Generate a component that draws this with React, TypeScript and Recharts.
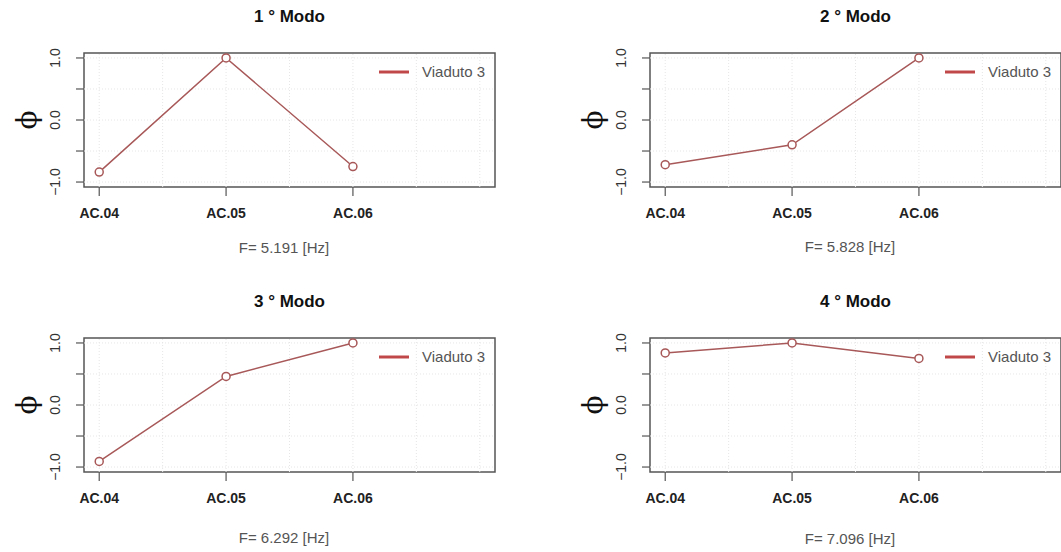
import React from "react";
import {
  LineChart,
  Line,
  XAxis,
  YAxis,
  ReferenceArea,
  ReferenceLine,
  Legend,
} from "recharts";

const stations = ["AC.04", "AC.05", "AC.06"];
const modeTitles = ["1 ° Modo", "2 ° Modo", "3 ° Modo", "4 ° Modo"];
const frequencies = ["5.191", "5.828", "6.292", "7.096"];
const mode1 = [-0.84, 1.0, -0.75];
const mode2 = [-0.72, -0.4, 1.0];
const mode3 = [-0.91, 0.46, 1.0];
const mode4 = [0.84, 1.0, 0.75];
const seriesName = "Viaduto 3";
const xTicks = [1, 2, 3];
const yTicks = [-1, -0.5, 0, 0.5, 1];
const xGridLines = [1, 1.5, 2, 2.5, 3, 3.5, 4];
const xDomain = [0.88, 4.12];
const yDomain = [-1.08, 1.08];

const modes = [mode1, mode2, mode3, mode4];

const FONT = '"Liberation Sans", Arial, sans-serif';
const LINE_COLOR = "#a85858";
const LEGEND_COLOR = "#c04848";
const BOX_COLOR = "#555";

// panel placement (left, top, F-label center y)
const panels = [
  { left: 0, top: 0, fy: 247 },
  { left: 566, top: 0, fy: 246 },
  { left: 0, top: 285, fy: 252 },
  { left: 566, top: 285, fy: 253 },
];

const yLabel = (v: number) => {
  if (v === 1) return "1.0";
  if (v === 0) return "0.0";
  if (v === -1) return "\u22121.0";
  return "";
};

const YTick = (props: any) => {
  const { x, y, payload } = props;
  const bx = x - 14;
  return (
    <text
      x={bx}
      y={y}
      transform={`rotate(-90, ${bx}, ${y})`}
      textAnchor="middle"
      fontSize={14}
      fontFamily={FONT}
      fill="#333"
    >
      {yLabel(payload.value)}
    </text>
  );
};

// rotated phi as the y axis title
const PhiLabel = (props: any) => {
  const vb = props.viewBox || { y: 53, height: 134 };
  const cx = 27;
  const cy = vb.y + vb.height / 2;
  return (
    <g transform={`translate(${cx}, ${cy}) rotate(-90)`}>
      <text
        x={0}
        y={9}
        textAnchor="middle"
        fontSize={28}
        fontFamily='"DejaVu Serif", serif'
        fill="#111"
      >
        {"\u03D5"}
      </text>
    </g>
  );
};

const LegendBox = () => (
  <div style={{ display: "flex", alignItems: "center", fontFamily: FONT }}>
    <svg width={30} height={6} style={{ marginRight: 13 }}>
      <line x1={0} y1={3} x2={30} y2={3} stroke={LEGEND_COLOR} strokeWidth={3} />
    </svg>
    <span style={{ fontSize: 15, color: "#555" }}>{seriesName}</span>
  </div>
);

const ModePanel = ({ index }: { index: number }) => {
  const values = modes[index];
  const data = stations.map((s, i) => ({ x: i + 1, station: s, phi: values[i] }));
  const p = panels[index];
  return (
    <div style={{ position: "absolute", left: p.left, top: p.top, width: 566, height: 284 }}>
      <div
        style={{
          position: "absolute",
          left: 289.5,
          top: 17,
          transform: "translate(-50%, -50%)",
          fontFamily: FONT,
          fontWeight: "bold",
          fontSize: 17,
          color: "#111",
          whiteSpace: "nowrap",
        }}
      >
        {modeTitles[index]}
      </div>
      <div
        style={{
          position: "absolute",
          left: 284,
          top: p.fy,
          transform: "translate(-50%, -50%)",
          fontFamily: FONT,
          fontSize: 15,
          color: "#555",
          whiteSpace: "nowrap",
        }}
      >
        {`F= ${frequencies[index]} [Hz]`}
      </div>
      <LineChart
        width={566}
        height={284}
        data={data}
        margin={{ top: 53, right: 71, bottom: 0, left: 24 }}
      >
        <XAxis
          type="number"
          dataKey="x"
          domain={xDomain}
          ticks={xTicks}
          allowDataOverflow
          height={97}
          axisLine={false}
          tickLine={{ stroke: BOX_COLOR, strokeWidth: 1.2 }}
          tickSize={9}
          tickMargin={12}
          tickFormatter={(v: number) => stations[v - 1]}
          tick={{ fontSize: 14, fontFamily: FONT, fontWeight: "bold", fill: "#222" }}
        />
        <YAxis
          type="number"
          domain={yDomain}
          ticks={yTicks}
          allowDataOverflow
          width={60}
          axisLine={false}
          tickLine={{ stroke: BOX_COLOR, strokeWidth: 1.2 }}
          tickSize={8}
          tickMargin={2}
          tick={<YTick />}
          label={<PhiLabel />}
        />
        {xGridLines.map((g) => (
          <ReferenceLine
            key={`gx-${g}`}
            x={g}
            stroke="#e6e6e6"
            strokeDasharray="1 2"
            ifOverflow="visible"
          />
        ))}
        {yTicks.map((g) => (
          <ReferenceLine
            key={`gy-${g}`}
            y={g}
            stroke="#e6e6e6"
            strokeDasharray="1 2"
            ifOverflow="visible"
          />
        ))}
        <ReferenceArea
          x1={xDomain[0]}
          x2={xDomain[1]}
          y1={yDomain[0]}
          y2={yDomain[1]}
          fill="none"
          fillOpacity={0}
          stroke={BOX_COLOR}
          strokeWidth={1.5}
          ifOverflow="visible"
        />
        <Legend
          layout="vertical"
          align="center"
          verticalAlign="middle"
          content={<LegendBox />}
          wrapperStyle={{ position: "absolute", left: 379, top: 63, width: "auto" }}
        />
        <Line
          type="linear"
          dataKey="phi"
          name={seriesName}
          stroke={LINE_COLOR}
          strokeWidth={1.5}
          dot={{ r: 4, stroke: LINE_COLOR, strokeWidth: 1.5, fill: "#fff" }}
          isAnimationActive={false}
        />
      </LineChart>
    </div>
  );
};

export default function App() {
  return (
    <div
      style={{
        position: "absolute",
        left: 0,
        top: 0,
        width: 1061,
        height: 552,
        overflow: "hidden",
        background: "#fff",
      }}
    >
      {modeTitles.map((_, i) => (
        <ModePanel key={i} index={i} />
      ))}
    </div>
  );
}
